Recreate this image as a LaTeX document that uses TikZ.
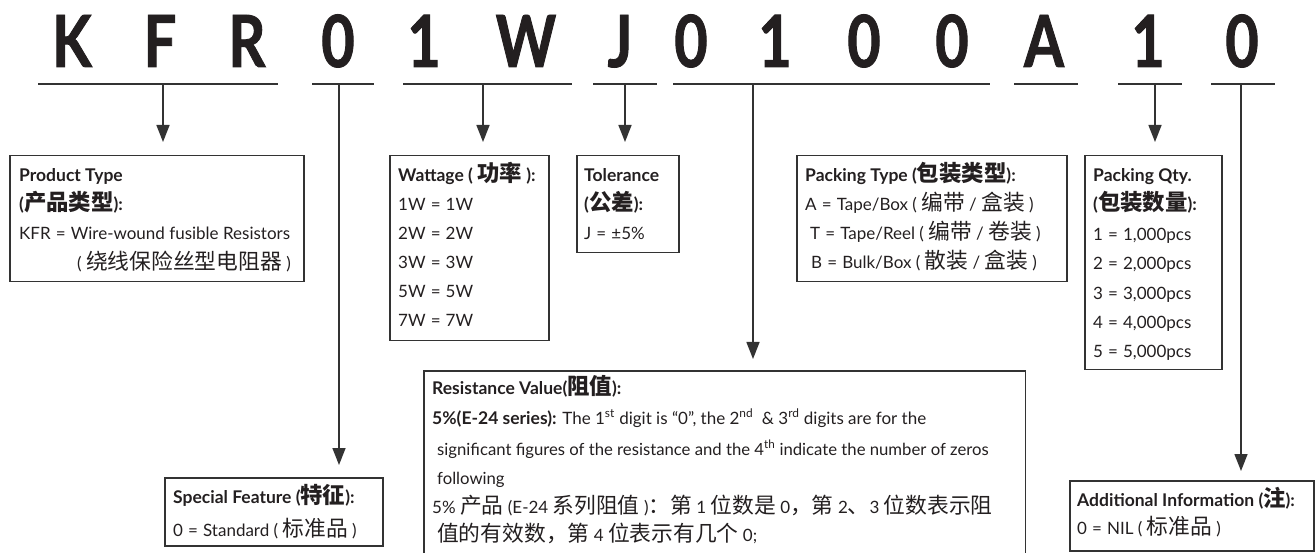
\documentclass[tikz,border=0pt]{standalone}
\usepackage{fontspec}
\setmainfont{Lato}
\newfontfamily\codefont{Lato}[FakeStretch=0.8, BoldFeatures={FakeBold=1.2}]
\newfontfamily\cjk{Noto Sans CJK SC}[Scale=1.28]
\newcommand\zh[1]{{\cjk #1}}
\newcommand\eq{\hspace{0.3em}=\hspace{0.3em}}
\usetikzlibrary{arrows.meta}
\definecolor{ink}{HTML}{231F20}
\definecolor{edge}{HTML}{333333}
\begin{document}
\begin{tikzpicture}[x=1pt,y=-1pt,
  code/.style={font=\fontsize{72}{72}\codefont\bfseries, text=ink, inner sep=0pt, anchor=base},
  uline/.style={draw=edge, line width=2pt},
  stem/.style={draw=edge, line width=1.5pt, -{Triangle[width=13pt,length=17pt]}},
  box/.style={draw=edge, line width=1.5pt, inner sep=0pt, anchor=north west},
  frame/.style={inner sep=0pt, anchor=north west},
  txt/.style={font=\fontsize{17}{17}\selectfont, text=ink, inner sep=0pt, anchor=base west},
  tb/.style={txt, font=\fontsize{17.5}{17.5}\selectfont\bfseries},
  rtxt/.style={font=\fontsize{16.7}{17}\selectfont, text=ink, inner sep=0pt, anchor=base west},
]
\useasboundingbox (0,0) rectangle (1315,553);

% code letters
\node[code] (c1) at (72,67) {K};
\node[code] (c2) at (160,67) {F};
\node[code] (c3) at (247,67) {R};
\node[code] (c4) at (338,67) {0};
\node[code] (c5) at (424,67) {1};
\node[code] (c6) at (526,67) {W};
\node[code] (c7) at (620,67) {J};
\node[code] (c8) at (691,67) {0};
\node[code] (c9) at (775,67) {1};
\node[code] (c10) at (864,67) {0};
\node[code] (c11) at (952,67) {0};
\node[code] (c12) at (1044,67) {A};
\node[code] (c13) at (1148,67) {1};
\node[code] (c14) at (1242,67) {0};

% underlines
\coordinate (u1a) at (38,84);   \coordinate (u1b) at (278,84);
\coordinate (u2a) at (312,84);  \coordinate (u2b) at (374,84);
\coordinate (u3a) at (403,84);  \coordinate (u3b) at (572,84);
\coordinate (u4a) at (593,84);  \coordinate (u4b) at (657,84);
\coordinate (u5a) at (673,84);  \coordinate (u5b) at (990,84);
\coordinate (u6a) at (1014,84); \coordinate (u6b) at (1078,84);
\coordinate (u7a) at (1118,84); \coordinate (u7b) at (1182,84);
\coordinate (u8a) at (1211,84); \coordinate (u8b) at (1275,84);
\foreach \i in {1,...,8} {\draw[uline] (u\i a) -- (u\i b);}

% stem roots
\coordinate (s1) at (163,84);
\coordinate (s2) at (339,84);
\coordinate (s3) at (483,84);
\coordinate (s4) at (625,84);
\coordinate (s5) at (753,84);
\coordinate (s7) at (1155,84);
\coordinate (s8) at (1241,84);

% boxes
\node[box, minimum width=294pt, minimum height=126pt] (pt) at (9,155) {};
\node[box, minimum width=159pt, minimum height=185pt] (wt) at (389,155) {};
\node[box, minimum width=102pt, minimum height=97pt] (tl) at (576,155) {};
\node[box, minimum width=270pt, minimum height=126pt] (pk) at (796,155) {};
\node[box, minimum width=137pt, minimum height=214pt] (pq) at (1084,155) {};
\node[box, minimum width=218pt, minimum height=68pt] (sf) at (164,477) {};
\node[box, minimum width=244pt, minimum height=70pt] (ai) at (1069,480) {};
\node[frame, minimum width=601pt, minimum height=182pt] (rv) at (424,371) {};
\draw[box] (rv.south west) -- (rv.north west) -- (rv.north east) -- (rv.south east);

% arrows
\draw[stem, shorten >=13pt] (s1) -- (s1 |- pt.north);
\draw[stem, shorten >=12pt] (s2) -- (s2 |- sf.north);
\draw[stem, shorten >=13pt] (s3) -- (s3 |- wt.north);
\draw[stem, shorten >=13pt] (s4) -- (s4 |- tl.north);
\draw[stem, shorten >=12pt] (s5) -- (s5 |- rv.north);
\draw[stem, shorten >=13pt] (s7) -- (s7 |- pq.north);
\draw[stem, shorten >=9pt] (s8) -- (s8 |- ai.north);

% Product Type
\node[tb] (pt1) at (19,182) {Product Type};
\node[tb] (pt2) at (19,211) {(\zh{产品类型}):};
\node[txt] (pt3) at (19,240) {KFR\eq Wire-wound fusible Resistors};
\node[txt] (pt4) at (77,270) {( \zh{绕线保险丝型电阻器} )};

% Wattage
\node[tb] (wt1) at (398,182) {Wattage ( \zh{功率} ):};
\node[txt] (wt2) at (398,211) {1W\eq 1W};
\node[txt] (wt3) at (398,240) {2W\eq 2W};
\node[txt] (wt4) at (398,269) {3W\eq 3W};
\node[txt] (wt5) at (398,298) {5W\eq 5W};
\node[txt] (wt6) at (398,327) {7W\eq 7W};

% Tolerance
\node[tb] (tl1) at (584,182) {Tolerance};
\node[tb] (tl2) at (584,211) {(\zh{公差}):};
\node[txt] (tl3) at (584,240) {J\eq ±5\%};

% Packing Type
\node[tb] (pk1) at (805,182) {Packing Type (\zh{包装类型}):};
\node[txt] (pk2) at (805,211) {A\eq Tape/Box ( \zh{编带} / \zh{盒装} )};
\node[txt] (pk3) at (810,240) {T\eq Tape/Reel ( \zh{编带} / \zh{卷装} )};
\node[txt] (pk4) at (811,269) {B\eq Bulk/Box ( \zh{散装} / \zh{盒装} )};

% Packing Qty
\node[tb] (pq1) at (1093,182) {Packing Qty.};
\node[tb] (pq2) at (1093,211) {(\zh{包装数量}):};
\node[txt] (pq3) at (1093,240.5) {1\eq 1,000pcs};
\node[txt] (pq4) at (1093,269.8) {2\eq 2,000pcs};
\node[txt] (pq5) at (1093,299.1) {3\eq 3,000pcs};
\node[txt] (pq6) at (1093,328.4) {4\eq 4,000pcs};
\node[txt] (pq7) at (1093,357.7) {5\eq 5,000pcs};

% Resistance Value
\node[tb] (rv1) at (432,395) {Resistance Value(\zh{阻值}):};
\node[txt] (rv2) at (432,424) {\textbf{\fontsize{17.5}{17.5}\selectfont 5\%(E-24 series):} The 1\textsuperscript{st} digit is “0”, the 2\textsuperscript{nd}\ \ \& 3\textsuperscript{rd} digits are for the};
\node[rtxt] (rv3) at (437,455) {significant figures of the resistance and the 4\textsuperscript{th} indicate the number of zeros};
\node[rtxt] (rv4) at (437,484) {following};
\node[txt] (rv5) at (432,513) {5\% \zh{产品} (E-24 \zh{系列阻值} )\zh{：第} 1 \zh{位数是} 0\zh{，第} 2\zh{、}3 \zh{位数表示阻}};
\node[txt] (rv6) at (437,541) {\zh{值的有效数，第} 4 \zh{位表示有几个} 0;};

% Special Feature
\node[tb] (sf1) at (173,503) {Special Feature (\zh{特征}):};
\node[txt] (sf2) at (173,536) {0\eq Standard ( \zh{标准品} )};

% Additional Information
\node[tb] (ai1) at (1077,506) {Additional Information (\zh{注}):};
\node[txt] (ai2) at (1077,534) {0\eq NIL ( \zh{标准品} )};
\end{tikzpicture}
\end{document}
